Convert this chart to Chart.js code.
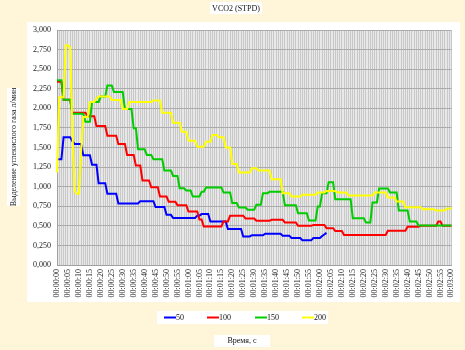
<!DOCTYPE html>
<html>
<head>
<meta charset="utf-8">
<script src="https://cdn.jsdelivr.net/npm/chart.js@4.4.1/dist/chart.umd.min.js"></script>
<style>
  html, body { margin: 0; padding: 0; background: #FFF6DA; }
  canvas { display: block; }
</style>
</head>
<body>
<canvas id="vco2Chart" width="465" height="350"></canvas>
<script>
// seconds 00:00:00 .. 00:03:00, one category per second
const timeLabels = [];
for (let s = 0; s <= 180; s++) {
  timeLabels.push('00:0' + Math.floor(s / 60) + ':' + String(s % 60).padStart(2, '0'));
}

const seriesNames = ['50', '100', '150', '200'];

// VCO2, l/min
const vco2_50 = [
  1.35,1.35,1.35,1.63,1.63,1.63,1.63,1.58,1.545,1.545,
  1.545,1.545,1.40,1.40,1.40,1.40,1.28,1.28,1.28,1.045,
  1.045,1.045,1.045,0.91,0.91,0.91,0.91,0.91,0.785,0.785,
  0.785,0.785,0.785,0.785,0.785,0.785,0.785,0.785,0.815,0.815,
  0.815,0.815,0.815,0.815,0.815,0.74,0.74,0.74,0.74,0.74,
  0.64,0.64,0.64,0.60,0.60,0.60,0.60,0.60,0.60,0.60,
  0.60,0.60,0.60,0.60,0.63,0.63,0.65,0.65,0.65,0.65,
  0.556,0.556,0.556,0.556,0.556,0.556,0.556,0.556,0.46,0.46,
  0.46,0.46,0.46,0.46,0.46,0.365,0.365,0.365,0.365,0.38,
  0.38,0.38,0.38,0.38,0.38,0.40,0.40,0.40,0.40,0.40,
  0.40,0.40,0.40,0.375,0.375,0.375,0.375,0.345,0.345,0.345,
  0.345,0.345,0.315,0.315,0.315,0.315,0.315,0.345,0.345,0.345,
  0.345,0.37,0.39,0.41
];

const vco2_100 = [
  2.34,2.34,2.34,2.11,2.11,2.11,2.11,1.944,1.944,1.944,
  1.944,1.944,1.944,1.944,1.90,1.90,1.90,1.90,1.774,1.774,
  1.774,1.774,1.774,1.65,1.65,1.65,1.65,1.65,1.545,1.545,
  1.545,1.545,1.405,1.405,1.405,1.405,1.27,1.27,1.27,1.08,
  1.08,1.08,1.08,0.993,0.993,0.993,0.993,0.874,0.874,0.874,
  0.874,0.806,0.806,0.806,0.806,0.764,0.764,0.764,0.764,0.764,
  0.683,0.683,0.683,0.683,0.683,0.58,0.58,0.49,0.49,0.49,
  0.49,0.49,0.49,0.49,0.49,0.49,0.556,0.556,0.556,0.63,
  0.63,0.63,0.63,0.63,0.63,0.63,0.594,0.594,0.594,0.594,
  0.594,0.565,0.565,0.565,0.565,0.565,0.565,0.565,0.577,0.577,
  0.577,0.577,0.577,0.577,0.543,0.543,0.543,0.543,0.543,0.543,
  0.50,0.50,0.50,0.50,0.50,0.50,0.50,0.51,0.51,0.51,
  0.51,0.51,0.51,0.47,0.47,0.47,0.47,0.433,0.433,0.433,
  0.433,0.382,0.382,0.382,0.382,0.382,0.382,0.382,0.382,0.382,
  0.382,0.382,0.382,0.382,0.382,0.382,0.382,0.382,0.382,0.382,
  0.382,0.437,0.437,0.437,0.437,0.437,0.437,0.437,0.437,0.437,
  0.488,0.488,0.488,0.488,0.488,0.488,0.50,0.50,0.50,0.50,
  0.50,0.50,0.50,0.50,0.556,0.556,0.50,0.50,0.50,0.50,
  0.50
];

const vco2_150 = [
  2.36,2.36,2.36,2.11,2.11,2.11,2.11,1.93,1.93,1.93,
  1.93,1.93,1.93,1.83,1.83,1.83,2.08,2.08,2.08,2.08,
  2.15,2.15,2.15,2.29,2.29,2.29,2.21,2.21,2.21,2.21,
  2.21,1.99,1.99,1.99,1.99,1.745,1.745,1.477,1.477,1.477,
  1.477,1.405,1.405,1.405,1.35,1.35,1.35,1.35,1.35,1.205,
  1.205,1.205,1.205,1.137,1.137,1.137,0.98,0.98,0.98,0.95,
  0.95,0.95,0.874,0.874,0.874,0.874,0.934,0.934,0.99,0.99,
  0.99,0.99,0.99,0.99,0.99,0.99,0.925,0.925,0.925,0.925,
  0.79,0.79,0.79,0.734,0.734,0.734,0.734,0.705,0.705,0.705,
  0.705,0.768,0.768,0.768,0.917,0.917,0.917,0.934,0.934,0.934,
  0.934,0.934,0.934,0.934,0.764,0.764,0.764,0.764,0.764,0.764,
  0.662,0.662,0.662,0.662,0.662,0.569,0.569,0.569,0.569,0.747,
  0.747,0.917,0.917,0.917,1.057,1.057,1.057,0.84,0.84,0.84,
  0.84,0.84,0.84,0.84,0.84,0.598,0.598,0.598,0.598,0.598,
  0.598,0.543,0.543,0.543,0.798,0.798,0.798,0.976,0.976,0.976,
  0.976,0.976,0.925,0.925,0.925,0.925,0.696,0.696,0.696,0.696,
  0.696,0.556,0.556,0.556,0.556,0.505,0.505,0.505,0.505,0.505,
  0.505,0.505,0.505,0.505,0.505,0.505,0.505,0.505,0.505,0.505,
  0.505
];

const vco2_200 = [
  1.18,2.14,2.14,2.14,2.805,2.805,2.78,1.75,0.95,0.908,
  0.908,1.45,1.89,1.89,1.89,2.08,2.08,2.08,2.12,2.15,
  2.15,2.15,2.15,2.15,2.15,2.105,2.105,2.105,2.105,2.105,
  1.99,1.99,1.99,2.08,2.08,2.08,2.08,2.08,2.08,2.08,
  2.08,2.08,2.08,2.08,2.10,2.10,2.10,2.10,1.944,1.944,
  1.944,1.944,1.944,1.817,1.817,1.817,1.817,1.70,1.70,1.70,
  1.587,1.587,1.587,1.587,1.51,1.51,1.51,1.51,1.575,1.575,
  1.575,1.66,1.66,1.66,1.63,1.63,1.63,1.50,1.50,1.50,
  1.29,1.29,1.29,1.18,1.18,1.18,1.18,1.18,1.18,1.235,
  1.235,1.235,1.205,1.205,1.205,1.205,1.205,1.205,1.095,1.095,
  1.095,1.095,1.095,0.917,0.917,0.917,0.917,0.874,0.874,0.874,
  0.874,0.874,0.896,0.896,0.896,0.896,0.896,0.896,0.896,0.925,
  0.925,0.925,0.925,0.946,0.946,0.946,0.946,0.946,0.925,0.925,
  0.925,0.925,0.925,0.887,0.887,0.887,0.887,0.887,0.887,0.887,
  0.887,0.887,0.887,0.887,0.887,0.925,0.925,0.925,0.925,0.925,
  0.925,0.862,0.862,0.862,0.862,0.81,0.81,0.81,0.81,0.738,
  0.738,0.738,0.738,0.738,0.738,0.738,0.738,0.713,0.713,0.713,
  0.713,0.713,0.713,0.696,0.696,0.696,0.696,0.696,0.72,0.72,
  0.72
];

const yTicks = [0, 0.25, 0.5, 0.75, 1, 1.25, 1.5, 1.75, 2, 2.25, 2.5, 2.75, 3];

const lineColors = ['#0000FF', '#FF0000', '#00CC00', '#FFFF00'];
const serif = "'Liberation Serif', 'Times New Roman', serif";

// boxes, legend and axis titles in the Excel layout
const excelFrame = {
  id: 'excelFrame',
  beforeDraw(chart) {
    const ctx = chart.ctx;
    const a = chart.chartArea;
    ctx.save();
    ctx.fillStyle = '#FFF6DA';
    ctx.fillRect(0, 0, chart.width, chart.height);
    ctx.fillStyle = '#FFFFFF';
    ctx.fillRect(27, 22, 433, 280);      // chart box
    ctx.fillRect(210, 2, 52, 12);        // title box
    ctx.fillRect(7, 88, 13, 118);        // y title box
    ctx.fillRect(157, 311, 171, 13);     // legend box
    ctx.fillRect(214, 335, 56, 12);      // x title box
    ctx.fillStyle = '#E8E8E8';
    ctx.fillRect(a.left, a.top, a.right - a.left, a.bottom - a.top);
    ctx.restore();
  },
  afterDraw(chart) {
    const ctx = chart.ctx;
    ctx.save();
    ctx.fillStyle = '#111';
    ctx.font = '8px ' + serif;
    ctx.textBaseline = 'middle';
    ctx.textAlign = 'center';
    ctx.fillText('VCO2 (STPD)', 236, 8.5);
    ctx.fillText('Время, с', 242, 341);

    ctx.save();
    ctx.translate(14, 147);
    ctx.rotate(-Math.PI / 2);
    ctx.fillText('Выделение углекислого газа л/мин', 0, 0);
    ctx.restore();

    // legend
    const legendX = [164, 207, 255, 302];
    ctx.textAlign = 'left';
    chart.data.datasets.forEach((ds, i) => {
      const x = legendX[i];
      ctx.strokeStyle = ds.borderColor;
      ctx.lineWidth = 2;
      ctx.beginPath();
      ctx.moveTo(x, 317.5);
      ctx.lineTo(x + 12, 317.5);
      ctx.stroke();
      ctx.fillText(ds.label, x + 12, 318);
    });
    ctx.restore();
  }
};

const allSeries = [vco2_50, vco2_100, vco2_150, vco2_200];

new Chart(document.getElementById('vco2Chart'), {
  type: 'line',
  data: {
    labels: timeLabels,
    datasets: allSeries.map((vals, i) => ({
      label: seriesNames[i],
      data: vals,
      borderColor: lineColors[i],
      backgroundColor: lineColors[i],
      borderWidth: 2,
      pointRadius: 0,
      tension: 0,
      fill: false,
      order: 3 - i
    }))
  },
  options: {
    responsive: false,
    devicePixelRatio: 1,
    animation: false,
    layout: { padding: { left: 0, right: 10, top: 30, bottom: 0 } },
    plugins: {
      legend: { display: false },
      title: { display: false },
      tooltip: { enabled: false }
    },
    scales: {
      x: {
        offset: false,
        grid: { color: '#C8C8C8', lineWidth: 1, drawTicks: false },
        border: { color: '#A0A0A0' },
        ticks: {
          autoSkip: false,
          minRotation: 90,
          maxRotation: 90,
          padding: 4,
          color: '#222',
          font: { family: serif, size: 8 },
          callback: function (value, index) {
            return index % 5 === 0 ? timeLabels[index] : '';
          }
        },
        afterFit(scale) { scale.height = 85; }
      },
      y: {
        min: 0,
        max: 3,
        afterBuildTicks(scale) { scale.ticks = yTicks.map(v => ({ value: v })); },
        grid: { color: '#ABABAB', lineWidth: 1, drawTicks: false },
        border: { color: '#A0A0A0' },
        ticks: {
          padding: 6,
          color: '#222',
          font: { family: serif, size: 8 },
          callback: v => v.toFixed(3).replace('.', ',')
        },
        afterFit(scale) { scale.width = 57; }
      }
    }
  },
  plugins: [excelFrame]
});
</script>
</body>
</html>
